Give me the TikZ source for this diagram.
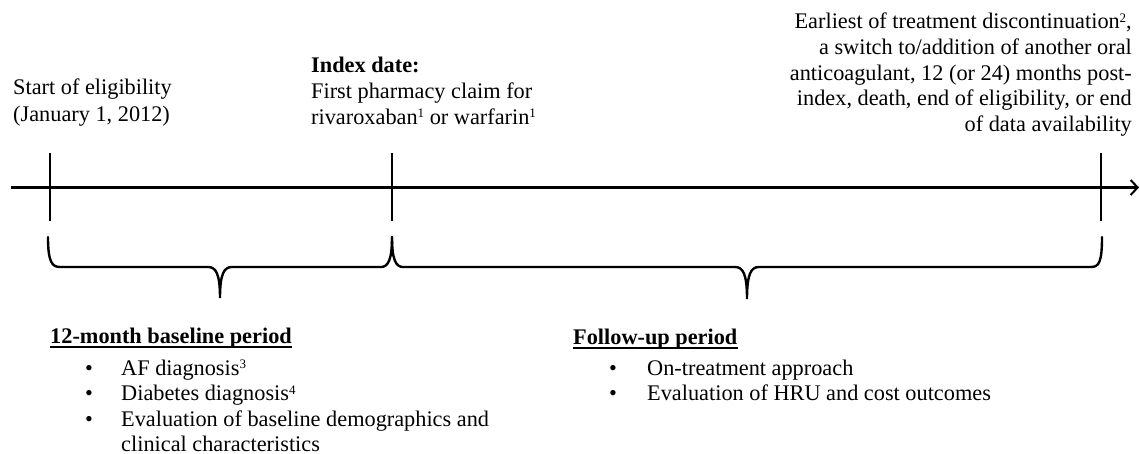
\documentclass[tikz,border=0pt]{standalone}
\usepackage{fontspec}
\setmainfont{Liberation Serif}
\usetikzlibrary{arrows.meta}
\newcommand\supnum[1]{\raisebox{6.5pt}{\fontsize{13}{13}\selectfont #1}}
\begin{document}
\begin{tikzpicture}[x=1pt,y=-1pt,
  txt/.style={inner sep=0pt,anchor=base west,font=\fontsize{22.3}{26}\selectfont},
  txtr/.style={inner sep=0pt,anchor=base east,font=\fontsize{22.3}{26}\selectfont},
  axisline/.style={line width=2.4pt,-{Straight Barb[length=7pt,width=15pt,line width=2pt]}},
  tickline/.style={line width=2.8pt},
  bracepath/.style={line width=2.4pt,line cap=round},
  ulinestyle/.style={line width=1.8pt}]
\useasboundingbox (0,0) rectangle (1140,454);
% axis
\coordinate (a0) at (11,187.5);
\coordinate (a1) at (1139,187.5);
\draw[axisline] (a0) -- (a1);
% ticks
\coordinate (t1top) at (50,153); \coordinate (t1bot) at (50,221);
\coordinate (t2top) at (392,153); \coordinate (t2bot) at (392,221);
\coordinate (t3top) at (1101,153); \coordinate (t3bot) at (1101,221);
\draw[tickline] (t1top) -- (t1bot);
\draw[tickline] (t2top) -- (t2bot);
\draw[tickline] (t3top) -- (t3bot);
% left brace
\draw[bracepath] (48,237) .. controls (48,262) and (52,267) .. (60,267)
  -- (208,267) .. controls (216,267) and (220,274) .. (220,298)
  .. controls (220,274) and (224,267) .. (232,267)
  -- (381,267) .. controls (388,267) and (392,260) .. (392,237);
% right brace
\draw[bracepath] (392,237) .. controls (392,260) and (396,267) .. (403,267)
  -- (735,267) .. controls (743,267) and (747,274) .. (747,299)
  .. controls (747,274) and (751,267) .. (759,267)
  -- (1091,267) .. controls (1099,267) and (1102,262) .. (1102,237);
% top-left labels
\node[txt] (s1) at (13,95) {Start of eligibility};
\node[txt] (s2) at (13,121.5) {(January 1, 2012)};
\node[txt] (i0) at (311,73) {\textbf{Index date:}};
\node[txt] (i1) at (311,99) {First pharmacy claim for};
\node[txt] (i2) at (311,124.5) {rivaroxaban\supnum{1} or warfarin\supnum{1}};
% top-right label
\node[txtr] (e1) at (1132,29) {Earliest of treatment discontinuation\supnum{2},};
\node[txtr] (e2) at (1132,54.5) {a switch to/addition of another oral};
\node[txtr] (e3) at (1132,80.5) {anticoagulant, 12 (or 24) months post-};
\node[txtr] (e4) at (1132,106) {index, death, end of eligibility, or end};
\node[txtr] (e5) at (1132,131.5) {of data availability};
% baseline period
\node[txt] (h1) at (50,343) {\textbf{12-month baseline period}};
\draw[ulinestyle] ([yshift=-4pt]h1.base west) -- ([yshift=-4pt]h1.base east);
\node[txt] (b1) at (85,375) {•};
\node[txt] (l1) at (121,375) {AF diagnosis\supnum{3}};
\node[txt] (b2) at (85,400.5) {•};
\node[txt] (l2) at (121,400.5) {Diabetes diagnosis\supnum{4}};
\node[txt] (b3) at (85,426) {•};
\node[txt] (l3) at (121,426) {Evaluation of baseline demographics and};
\node[txt] (l4) at (121,451) {clinical characteristics};
% follow-up period
\node[txt] (h2) at (573,344) {\textbf{Follow-up period}};
\draw[ulinestyle] ([yshift=-4pt]h2.base west) -- ([yshift=-4pt]h2.base east);
\node[txt] (c1) at (609,375) {•};
\node[txt] (m1) at (647,375) {On-treatment approach};
\node[txt] (c2) at (609,400.5) {•};
\node[txt] (m2) at (647,400.5) {Evaluation of HRU and cost outcomes};
\end{tikzpicture}
\end{document}
